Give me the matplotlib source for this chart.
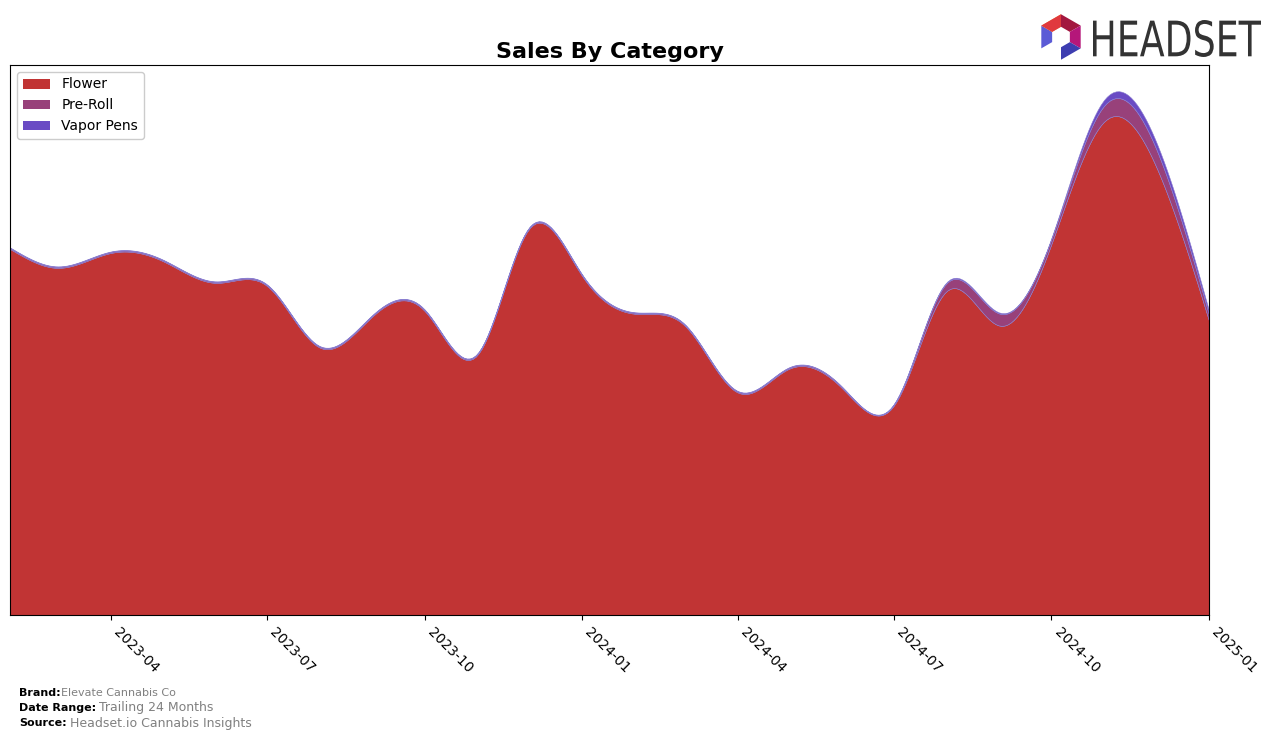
import numpy as np
import pandas as pd
import matplotlib
matplotlib.use("Agg")
import matplotlib.pyplot as plt
import matplotlib.dates as mdates
from matplotlib.patches import Patch, Polygon, PathPatch
from matplotlib.textpath import TextPath
from matplotlib.font_manager import FontProperties
from matplotlib.transforms import Affine2D

########################################

# Monthly sales by category (arbitrary units)

months = pd.date_range("2023-02-01", "2025-01-01", freq="MS")

flower = [367, 348, 363, 355, 333, 330, 268, 300, 305, 261, 387, 340,
          302, 290, 223, 247, 227, 210, 325, 290, 372, 495, 450, 295]
pre_roll = [1, 1, 1, 1, 1, 1, 1, 1, 1, 1, 1, 1,
            1, 1, 1, 1, 1, 1, 8, 12, 5, 16, 18, 6]
vapor_pens = [0.5, 0.5, 0.5, 0.5, 0.5, 0.5, 0.5, 0.5, 0.5, 0.5, 0.5, 0.5,
              0.5, 0.5, 0.5, 0.5, 0.5, 0.5, 1, 1, 1, 6, 7, 4]

categories = ["Flower", "Pre-Roll", "Vapor Pens"]
colors = ["#C13434", "#98417A", "#6A4BC4"]

tick_dates = pd.date_range("2023-04-01", "2025-01-01", freq="3MS")

########################################

# Functions

# Natural cubic spline, used only to draw the monthly points as smooth curves
def smooth(x, y, n = 400):
    x = np.asarray(x, dtype = float)
    y = np.asarray(y, dtype = float)
    k = len(x)
    h = np.diff(x)
    A = np.zeros((k, k))
    b = np.zeros(k)
    A[0, 0] = 1
    A[-1, -1] = 1
    for i in range(1, k - 1):
        A[i, i - 1] = h[i - 1]
        A[i, i] = 2 * (h[i - 1] + h[i])
        A[i, i + 1] = h[i]
        b[i] = 6 * ((y[i + 1] - y[i]) / h[i] - (y[i] - y[i - 1]) / h[i - 1])
    M = np.linalg.solve(A, b)

    xs = np.linspace(x[0], x[-1], n)
    idx = np.clip(np.searchsorted(x, xs) - 1, 0, k - 2)
    x0, x1 = x[idx], x[idx + 1]
    hh = x1 - x0
    t0, t1 = x1 - xs, xs - x0
    ys = (M[idx] * t0 ** 3 + M[idx + 1] * t1 ** 3) / (6 * hh) \
        + (y[idx] / hh - M[idx] * hh / 6) * t0 \
        + (y[idx + 1] / hh - M[idx + 1] * hh / 6) * t1
    return xs, ys

def draw_logo(fig):
    ax = fig.add_axes([1036 / 1276, 1 - 62 / 740, 50 / 1276, 50 / 740])
    ax.set_xlim(-1.1, 1.1)
    ax.set_ylim(-1.1, 1.1)
    ax.axis("off")
    R, r = 1.0, 0.45
    angles = np.radians([90, 30, -30, -90, -150, 150])
    outer = [(R * np.cos(a), R * np.sin(a)) for a in angles]
    inner = [(r * np.cos(a), r * np.sin(a)) for a in angles]
    seg_colors = ["#A3173F", "#B5177A", "#3D3DB0", None, "#5B5BD6", "#F08030"]
    for i, c in enumerate(seg_colors):
        if c is None:
            continue
        j = (i + 1) % 6
        ax.add_patch(Polygon([outer[i], outer[j], inner[j], inner[i]], closed = True, color = c, lw = 0))
    ax.add_patch(Polygon([outer[5], outer[0], inner[0], inner[5]], closed = True, color = "#E0393E", lw = 0))

    # word mark, squeezed to fit the box it takes in the reference
    tax = fig.add_axes([1093 / 1276, 1 - 57 / 740, 168 / 1276, 37 / 740])
    tax.axis("off")
    tp = TextPath((0, 0), "HEADSET", size = 1, prop = FontProperties(family = "DejaVu Sans"))
    ext = tp.get_extents()
    tr = Affine2D().translate(-ext.x0, -ext.y0).scale(1 / ext.width, 1 / ext.height)
    tax.add_patch(PathPatch(tr.transform_path(tp), color = "#333333", lw = 0))
    tax.set_xlim(0, 1)
    tax.set_ylim(0, 1)

########################################

x_num = mdates.date2num(months)
stack = np.vstack([flower, pre_roll, vapor_pens])
xs = None
curves = []
for row in stack:
    xs, ys = smooth(x_num, row)
    curves.append(np.clip(ys, 0, None))

fig = plt.figure(figsize = (12.76, 7.40), dpi = 100)
ax = fig.add_axes([10 / 1276, 1 - 615 / 740, 1199 / 1276, 550 / 740])

ax.stackplot(mdates.num2date(xs), *curves, colors = colors, labels = categories, lw = 0.4,
             edgecolor = "#8A7FD0")

smooth_total = np.sum(curves, axis = 0)
ax.set_xlim(months[0], months[-1])
ax.set_ylim(0, smooth_total.max() * 1.05)
ax.set_yticks([])
ax.set_xticks(tick_dates)
ax.xaxis.set_major_formatter(mdates.DateFormatter("%Y-%m"))
plt.setp(ax.get_xticklabels(), rotation = -45, ha = "left", fontsize = 10)

ax.set_title("Sales By Category", fontsize = 16, fontweight = "bold", pad = 5)

handles = [Patch(facecolor = c, label = l) for c, l in zip(colors, categories)]
ax.legend(handles = handles, loc = "upper left", fontsize = 10, framealpha = 1)

# Footer
fig.text(19 / 1276, 1 - 693 / 740, "Brand:", fontsize = 8, fontweight = "bold", va = "center")
fig.text(61 / 1276, 1 - 693 / 740, "Elevate Cannabis Co", fontsize = 8, color = "#808080", va = "center")
fig.text(19 / 1276, 1 - 708 / 740, "Date Range:", fontsize = 8, fontweight = "bold", va = "center")
fig.text(99 / 1276, 1 - 708 / 740, "Trailing 24 Months", fontsize = 9, color = "#808080", va = "center")
fig.text(19 / 1276, 1 - 723 / 740, "Source:", fontsize = 8, fontweight = "bold", va = "center")
fig.text(70 / 1276, 1 - 723 / 740, "Headset.io Cannabis Insights", fontsize = 9, color = "#808080", va = "center")

draw_logo(fig)

plt.savefig("out.png", dpi = 100)
plt.close()
